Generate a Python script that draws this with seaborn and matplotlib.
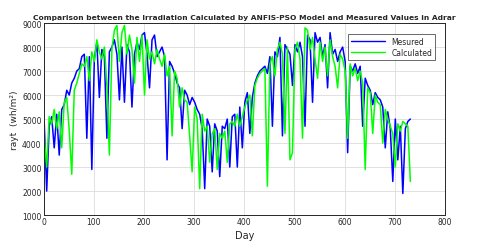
import matplotlib
matplotlib.use("Agg")
import matplotlib.pyplot as plt
import pandas as pd
import seaborn as sns

days = list(range(1, 732, 5))

measured = [
    4900, 2000, 4700, 5100, 3800, 5200, 3500, 5400, 5600, 6200,
    6000, 6500, 6700, 7000, 7100, 7600, 7700, 4200, 7600, 2900,
    7500, 8200, 5900, 7900, 7600, 4200, 7800, 8000, 8300, 7700,
    5800, 8000, 5700, 8100, 7800, 5500, 7700, 8200, 7900, 8500,
    8600, 7700, 6300, 8300, 8500, 7600, 7800, 8000, 7600, 3300,
    7400, 7200, 6900, 6500, 6300, 4600, 6200, 6000, 5600, 5900,
    5700, 5400, 5200, 4600, 2100, 5000, 4700, 2800, 4800, 4500,
    2600, 4700, 4600, 5000, 3000, 5100, 5200, 3000, 5500, 3800,
    5700, 6100, 4400, 5900, 6500, 6800, 7000, 7100, 7200, 6900,
    7600, 4700, 7800, 7600, 8400, 4300, 8100, 7900, 7700, 6400,
    8100, 7800, 8200, 7600, 4700, 8500, 8300, 5700, 8600, 8200,
    8400, 7600, 8100, 6300, 8600, 7700, 7900, 7400, 7800, 8000,
    7400, 3600, 7200, 7000, 7300, 6900, 7200, 4700, 6700, 6400,
    6200, 5600, 6100, 5900, 5800, 5500, 3800, 5300, 4600, 2400,
    5000, 3300, 4700, 1900, 4600, 4900, 5000,
]

calculated = [
    4200, 3000, 5100, 4800, 5400, 4600, 5300, 3800, 5700, 5900,
    4500, 2700, 6200, 6500, 6900, 7300, 7200, 7600, 6600, 7800,
    7400, 8300, 7800, 7500, 8000, 6400, 3500, 7900, 8700, 8900,
    7400, 8600, 8900, 7700, 8500, 7900, 6500, 8400, 7400, 8500,
    6000, 8300, 7500, 7800, 7300, 7900, 7500, 7200, 7700, 6800,
    7200, 4300, 7000, 6700, 5500, 6300, 5800, 5700, 4300, 2800,
    5500, 5000, 2100, 5200, 4500, 4700, 3200, 4400, 4600, 2900,
    4400, 4200, 4500, 3200, 4800, 4900, 4700, 5200, 4700, 5100,
    5500, 5800, 6000, 4300, 6400, 6700, 6900, 7000, 7100, 2200,
    7300, 7600, 6800, 7900, 8200, 7700, 4400, 8000, 3300, 3600,
    7900, 8200, 7500, 4200, 8800, 8700, 7900, 8400, 7500, 6700,
    8200, 7400, 8000, 6800, 8300, 7600, 7200, 6300, 7700, 7500,
    7000, 4200, 7300, 6800, 7100, 6600, 7000, 6500, 2900, 6300,
    6100, 4400, 6000, 5700, 5600, 4000, 5400, 5000, 4700, 4400,
    3000, 4800, 4500, 4900, 4800, 4700, 2400,
]

df = pd.DataFrame({"day": days, "Mesured": measured, "Calculated": calculated})
df_long = df.melt(id_vars="day", var_name="series", value_name="value")

sns.set_style("whitegrid")
plt.rcParams["font.family"] = ["DejaVu Sans"]

fig = plt.figure(figsize=(4.8, 2.53), dpi=100)
ax = fig.add_axes([0.091, 0.146, 0.836, 0.759])

sns.lineplot(data=df_long, x="day", y="value", hue="series",
             palette={"Mesured": "#0000FF", "Calculated": "#00FF00"},
             linewidth=1.1, ax=ax)

ax.set_xlim(0, 800)
ax.set_ylim(1000, 9000)
ax.set_xticks(range(0, 801, 100))
ax.set_yticks(range(1000, 9001, 1000))
ax.tick_params(labelsize=5.5, pad=1.5, length=2, color="#262626", direction="in")
ax.grid(True, color="#dcdcdc", linewidth=0.6)
for s in ax.spines.values():
    s.set_color("#262626")
    s.set_linewidth(0.7)

ax.set_title("Comparison between the Irradiation Calculated by ANFIS-PSO Model and Measured Values in Adrar",
             fontsize=5.4, fontweight="bold", pad=3)
ax.set_xlabel("Day", fontsize=7, color="#262626", labelpad=3)
ax.set_ylabel("rayt  (wh/m²)", fontsize=6.5, color="#262626", labelpad=2)

leg = ax.legend(loc="upper right", bbox_to_anchor=(0.985, 0.965), fontsize=5.5,
                frameon=True, fancybox=False, edgecolor="#262626",
                handlelength=4.5, borderpad=0.4, labelspacing=0.3)
leg.get_frame().set_linewidth(0.6)
for line in leg.get_lines():
    line.set_linewidth(1.0)

fig.savefig("out.png", dpi=100)
